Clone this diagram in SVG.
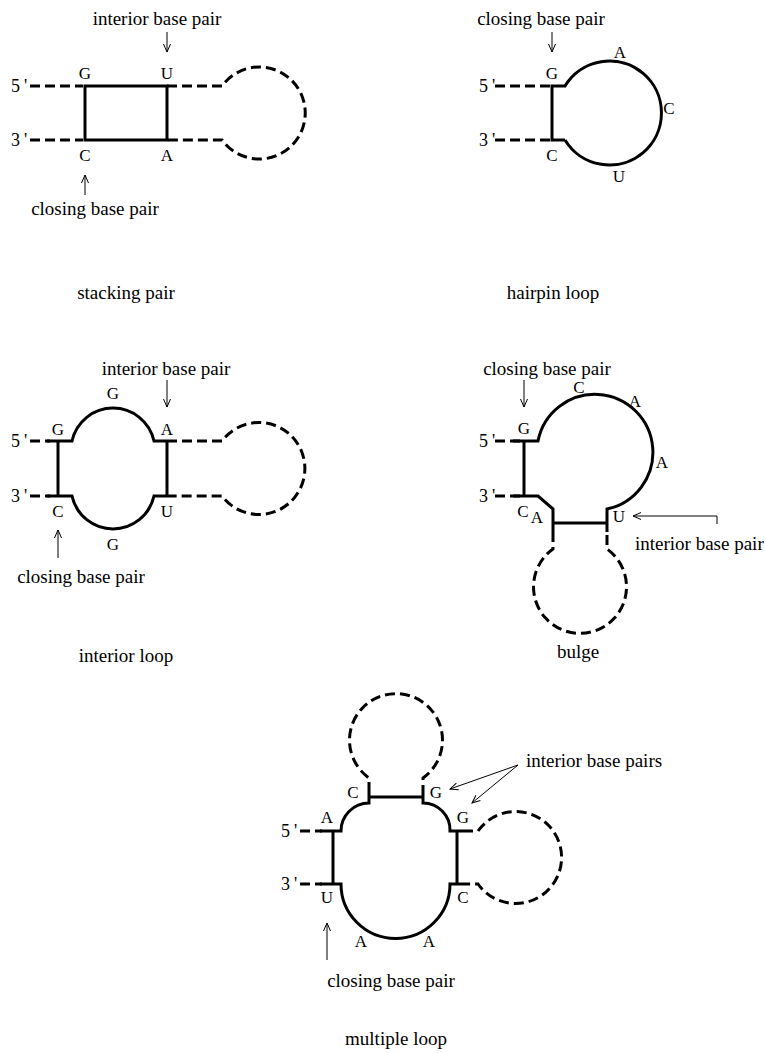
<svg xmlns="http://www.w3.org/2000/svg" width="765" height="1053" viewBox="0 0 765 1053">
<style>
text{font-family:"Liberation Serif","Times New Roman",serif;fill:#000}
.lab{font-size:19px;text-anchor:middle}
.labs{font-size:19px}
.b{font-size:17px;text-anchor:middle}
.e{font-size:18px}
.s{fill:none;stroke:#000;stroke-width:3}
.d{fill:none;stroke:#000;stroke-width:3;stroke-dasharray:10 5}
.a{fill:none;stroke:#000;stroke-width:1;marker-end:url(#ah)}
</style>
<defs>
<marker id="ah" markerWidth="12" markerHeight="10" viewBox="-10 -5 12 10" refX="0" refY="0" orient="auto" markerUnits="userSpaceOnUse">
<path d="M-8,-3.5 L0,0 L-8,3.5" fill="none" stroke="#000" stroke-width="1"/>
</marker>
</defs>
<rect width="765" height="1053" fill="#fff"/>

<g id="stacking-pair">
<path class="d" d="M30,86 H83 M30,140 H83 M167,86 H222 A46,46 0 1 1 222,140 H167"/>
<rect class="s" x="85" y="86" width="82" height="54"/>
<text class="b" x="85" y="79">G</text>
<text class="b" x="167" y="79">U</text>
<text class="b" x="85" y="161">C</text>
<text class="b" x="167" y="161">A</text>
<text class="e" x="11" y="92">5<tspan dx="4">'</tspan></text>
<text class="e" x="11" y="146">3<tspan dx="4">'</tspan></text>
<text class="lab" x="157" y="25">interior base pair</text>
<text class="lab" x="95" y="215">closing base pair</text>
<text class="lab" x="126" y="299">stacking pair</text>
</g>

<g id="hairpin-loop">
<path class="d" d="M495,86 H550 M495,140 H550"/>
<path class="s" d="M565,140 H552 V86 H565 A52,52 0 1 1 565,140"/>
<text class="b" x="552" y="79">G</text>
<text class="b" x="552" y="161">C</text>
<text class="b" x="620" y="58">A</text>
<text class="b" x="669" y="114">C</text>
<text class="b" x="619" y="182">U</text>
<text class="e" x="479" y="92">5<tspan dx="4">'</tspan></text>
<text class="e" x="479" y="146">3<tspan dx="4">'</tspan></text>
<text class="lab" x="541" y="25">closing base pair</text>
<text class="lab" x="553" y="299">hairpin loop</text>
</g>

<g id="interior-loop">
<path class="d" d="M30,441 H50 M30,496 H50 M167,441 H222 A46,46 0 1 1 222,496 H167"/>
<path class="s" d="M47,441 H72 A42,42 0 0 1 154,441 H167 M58,441 V496 M167,441 V496 M47,496 H72 A42,42 0 0 0 154,496 H167"/>
<text class="b" x="58" y="435">G</text>
<text class="b" x="167" y="435">A</text>
<text class="b" x="113" y="399">G</text>
<text class="b" x="58" y="517">C</text>
<text class="b" x="167" y="517">U</text>
<text class="b" x="113" y="550">G</text>
<text class="e" x="11" y="447">5<tspan dx="4">'</tspan></text>
<text class="e" x="11" y="502">3<tspan dx="4">'</tspan></text>
<text class="lab" x="166" y="375">interior base pair</text>
<text class="lab" x="81" y="583">closing base pair</text>
<text class="lab" x="126" y="662">interior loop</text>
</g>

<g id="bulge">
<path class="d" d="M495,441 H520 M495,496 H520 M553,532 V549 A46.5,46.5 0 1 0 607,549 V532"/>
<path class="s" d="M513,441 H538 A58,58 0 1 1 607,509 V532 M524,441 V496 M513,496 H538 L553,509 V532 M553,523 H607"/>
<text class="b" x="524" y="434">G</text>
<text class="b" x="579" y="393">C</text>
<text class="b" x="635" y="407">A</text>
<text class="b" x="662" y="468">A</text>
<text class="b" x="619" y="522">U</text>
<text class="b" x="523" y="517">C</text>
<text class="b" x="537" y="523">A</text>
<text class="e" x="479" y="447">5<tspan dx="4">'</tspan></text>
<text class="e" x="479" y="502">3<tspan dx="4">'</tspan></text>
<text class="lab" x="547" y="375">closing base pair</text>
<text class="labs" x="635" y="550">interior base pair</text>
<text class="lab" x="578" y="658">bulge</text>
</g>

<g id="multiple-loop">
<path class="d" d="M300,831 H322 M300,884 H322 M463,831 H478 A46,46 0 1 1 478,884 H463 M369,792 V778 A46.5,46.5 0 1 1 423,778 V792"/>
<path class="s" d="M320,831 H341 A28,28 0 0 1 369,803 V792 M333,831 V884 M320,884 H341 A54.5,54.5 0 0 0 450,884 H463 M457,831 V884 M423,792 V803 A27,27 0 0 1 450,831 H463 M369,797 H423"/>
<text class="b" x="327" y="823">A</text>
<text class="b" x="353" y="798">C</text>
<text class="b" x="436" y="798">G</text>
<text class="b" x="463" y="823">G</text>
<text class="b" x="327" y="903">U</text>
<text class="b" x="463" y="903">C</text>
<text class="b" x="361" y="947">A</text>
<text class="b" x="429" y="947">A</text>
<text class="e" x="281" y="837">5<tspan dx="4">'</tspan></text>
<text class="e" x="281" y="890">3<tspan dx="4">'</tspan></text>
<text class="labs" x="526" y="767">interior base pairs</text>
<text class="lab" x="391" y="987">closing base pair</text>
<text class="lab" x="396" y="1045">multiple loop</text>
</g>

<g id="connectors">
<path class="a" d="M167,32 V52"/>
<path class="a" d="M85,195 V175"/>
<path class="a" d="M552,32 V52"/>
<path class="a" d="M167,380 V407"/>
<path class="a" d="M58,558 V530"/>
<path class="a" d="M524,380 V407"/>
<path class="a" d="M717,524 V516 H633"/>
<path class="a" d="M518,765 L450,789"/>
<path class="a" d="M518,765 L472,803"/>
<path class="a" d="M327,960 V923"/>
</g>
</svg>
